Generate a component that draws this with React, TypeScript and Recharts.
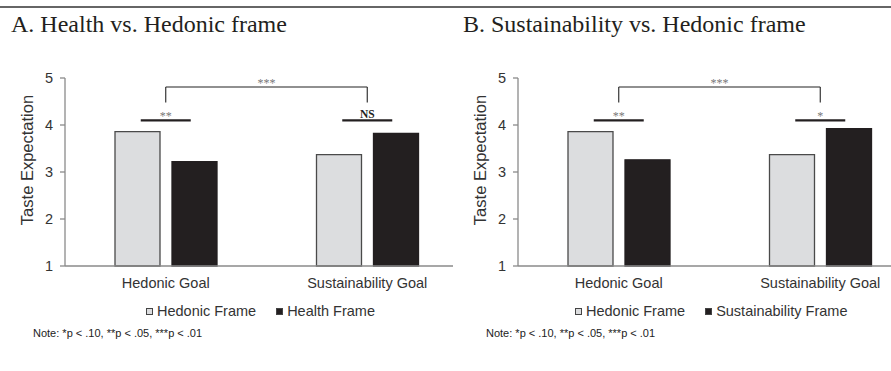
import React from 'react';
import { BarChart, Bar, XAxis, YAxis, ReferenceLine, ReferenceDot, Legend } from 'recharts';

// values
const categories = ['Hedonic Goal', 'Sustainability Goal'];
const hedonicFrameA = [3.86, 3.37];
const healthFrameA = [3.22, 3.82];
const hedonicFrameB = [3.86, 3.37];
const sustainabilityFrameB = [3.26, 3.92];
const yTicks = [1, 2, 3, 4, 5];
const pairStarsA = ['**', 'NS'];
const pairStarsB = ['**', '*'];
const overallStars = '***';
const noteText = 'Note: *p < .10, **p < .05, ***p < .01';

// y levels (data units) of the significance marks
const BRACKET_TOP = 4.81;
const BRACKET_LEG = 4.48;
const PAIR_LINE = 4.1;

const SANS = '"Liberation Sans", Arial, sans-serif';
const SERIF = '"Liberation Serif", "Times New Roman", serif';
const LIGHT = '#dcdddf';
const DARK = '#231f20';
const AXIS = '#8a8a8a';
const seriesOrder = ['hedonic', 'other'];

const pairMark = (label: string) => (p: any) => {
  const ns = label === 'NS';
  return (
    <g>
      <line x1={p.cx - 25} x2={p.cx + 25} y1={p.cy} y2={p.cy} stroke={DARK} strokeWidth={2.2} />
      <text
        x={p.cx}
        y={ns ? p.cy - 2.5 : p.cy - 0.5}
        textAnchor="middle"
        fontFamily={SERIF}
        fontSize={ns ? 11.5 : 12}
        fontWeight={ns ? 'bold' : 'normal'}
        fill={ns ? '#222' : '#777'}
      >
        {label}
      </text>
    </g>
  );
};

const renderLegend = (left: number) => (props: any) => {
  const items = [...(props.payload || [])].sort(
    (a: any, b: any) => seriesOrder.indexOf(a.dataKey) - seriesOrder.indexOf(b.dataKey)
  );
  return (
    <div style={{ height: 44, fontFamily: SANS }}>
      <div style={{ display: 'flex', alignItems: 'center', paddingLeft: left, fontSize: 14.5, color: '#333', lineHeight: '17px' }}>
        {items.map((it: any, i: number) => (
          <span key={i} style={{ display: 'flex', alignItems: 'center', marginRight: 20 }}>
            <span
              style={{
                display: 'inline-block',
                width: 7,
                height: 7,
                background: it.color,
                border: '1px solid #444',
                boxSizing: 'border-box',
                marginRight: 4,
              }}
            />
            {it.value}
          </span>
        ))}
      </div>
      <div style={{ fontSize: 11, color: '#222', paddingLeft: 33, marginTop: 7, lineHeight: '13px' }}>{noteText}</div>
    </div>
  );
};

interface PanelProps {
  left: number;
  width: number;
  padRight: number;
  legendLeft: number;
  first: number[];
  second: number[];
  secondName: string;
  stars: string[];
}

const Panel: React.FC<PanelProps> = ({ left, width, padRight, legendLeft, first, second, secondName, stars }) => {
  const data = categories.map((c, i) => ({ name: c, hedonic: first[i], other: second[i] }));
  return (
    <div style={{ position: 'absolute', left, top: 0 }}>
      <BarChart
        width={width}
        height={371}
        data={data}
        barGap={12}
        margin={{ top: 78, right: 2, bottom: 75, left: 20 }}
        style={{ fontFamily: SANS }}
      >
        <XAxis
          dataKey="name"
          tickLine={false}
          tickSize={0}
          tickMargin={12}
          padding={{ left: 0, right: padRight }}
          axisLine={{ stroke: AXIS, strokeWidth: 1.3 }}
          tick={{ fill: '#333', fontSize: 14.5 }}
          height={30}
        />
        <YAxis
          type="number"
          domain={[1, 5]}
          ticks={yTicks}
          width={45}
          tickSize={5}
          tickMargin={7}
          axisLine={{ stroke: AXIS, strokeWidth: 1.3 }}
          tickLine={{ stroke: AXIS, strokeWidth: 1.3 }}
          tick={{ fill: '#333', fontSize: 14.5 }}
          label={{ value: 'Taste Expectation', angle: -90, position: 'inside', dx: -15, dy: -12, fill: '#333', fontSize: 16.5 }}
        />
        <Legend
          verticalAlign="middle"
          layout="horizontal"
          itemSorter={null as any}
          wrapperStyle={{ top: 303, left: 0, width }}
          content={renderLegend(legendLeft)}
        />
        <Bar dataKey="hedonic" name="Hedonic Frame" fill={LIGHT} stroke="#4a4a4a" strokeWidth={1.3} barSize={45} isAnimationActive={false} />
        <Bar dataKey="other" name={secondName} fill={DARK} stroke={DARK} strokeWidth={1.3} barSize={45} isAnimationActive={false} />
        <ReferenceLine
          segment={[{ x: categories[0], y: BRACKET_TOP }, { x: categories[1], y: BRACKET_TOP }]}
          stroke="#222"
          strokeWidth={1.1}
          label={{ value: overallStars, position: 'top', offset: 0, fill: '#777', fontSize: 12, fontFamily: SERIF }}
        />
        {categories.map((c) => (
          <ReferenceLine key={'leg' + c} segment={[{ x: c, y: BRACKET_TOP }, { x: c, y: BRACKET_LEG }]} stroke="#222" strokeWidth={1.1} />
        ))}
        {categories.map((c, i) => (
          <ReferenceDot key={'pair' + c} x={c} y={PAIR_LINE} shape={pairMark(stars[i])} />
        ))}
      </BarChart>
    </div>
  );
};

const titleStyle: React.CSSProperties = {
  position: 'absolute',
  top: 12,
  fontFamily: SERIF,
  fontSize: 24,
  lineHeight: '24px',
  color: DARK,
  whiteSpace: 'nowrap',
};

export default function App() {
  return (
    <div style={{ position: 'absolute', left: 0, top: 0, width: 891, height: 371, overflow: 'hidden', background: '#fff' }}>
      <div style={{ position: 'absolute', left: 0, top: 6, width: 891, height: 2, background: '#666' }} />
      <div style={{ ...titleStyle, left: 11 }}>A. Health vs. Hedonic frame</div>
      <div style={{ ...titleStyle, left: 463 }}>B. Sustainability vs. Hedonic frame</div>
      <Panel
        left={0}
        width={455}
        padRight={-15}
        legendLeft={146}
        first={hedonicFrameA}
        second={healthFrameA}
        secondName="Health Frame"
        stars={pairStarsA}
      />
      <Panel
        left={453}
        width={440}
        padRight={-30}
        legendLeft={122}
        first={hedonicFrameB}
        second={sustainabilityFrameB}
        secondName="Sustainability Frame"
        stars={pairStarsB}
      />
    </div>
  );
}
